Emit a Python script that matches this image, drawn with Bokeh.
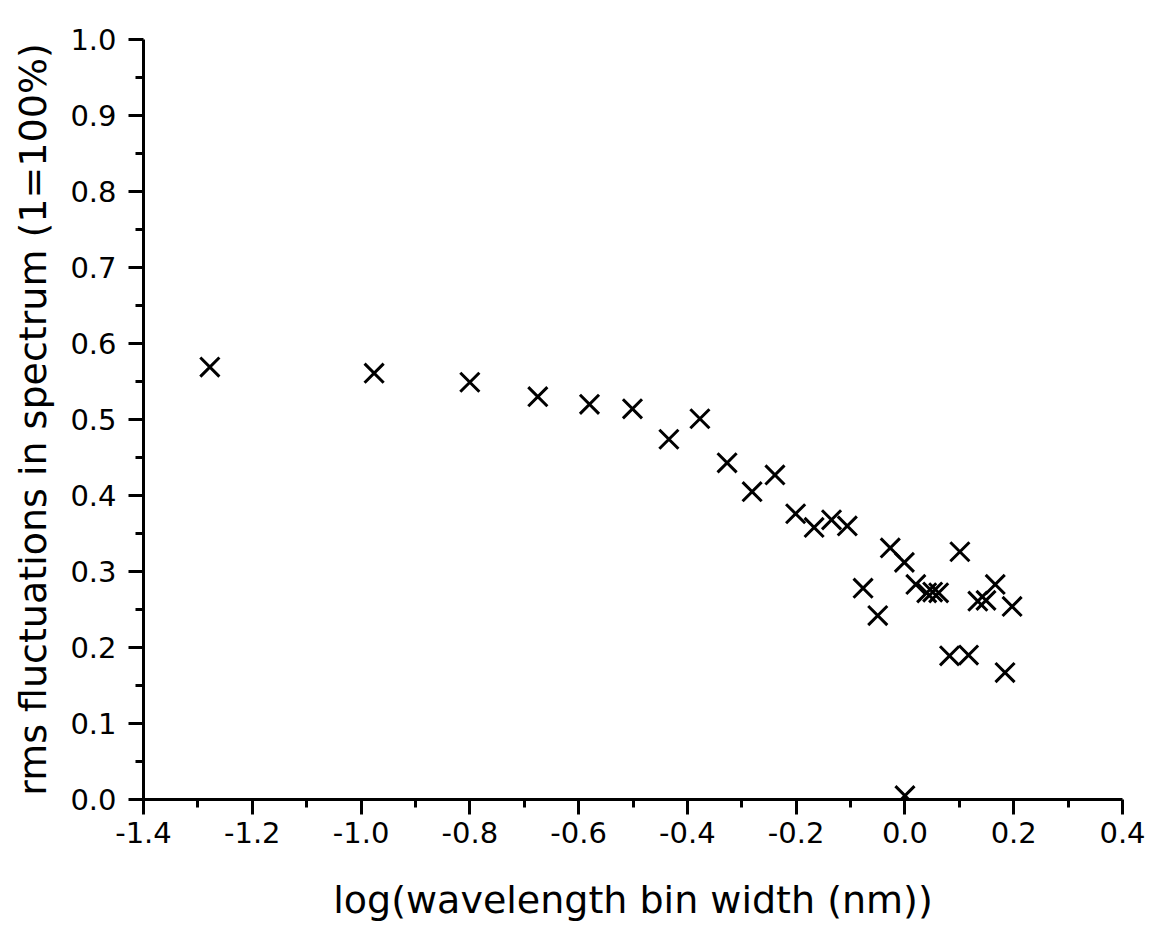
from bokeh.plotting import figure
from bokeh.models import FixedTicker, NumeralTickFormatter, LinearAxis, Range1d
from bokeh.embed import file_html
from bokeh.resources import INLINE

# data
log_bin_width = [-1.278, -0.976, -0.800, -0.675, -0.580, -0.501, -0.434, -0.377,
                 -0.327, -0.281, -0.239, -0.201, -0.167, -0.135, -0.106, -0.077,
                 -0.050, -0.027, -0.001, 0.020, 0.040, 0.051, 0.062, 0.101,
                 0.134, 0.149, 0.166, 0.197, 0.082, 0.117, 0.184, 0.000]
rms_fluct = [0.569, 0.561, 0.549, 0.530, 0.520, 0.514, 0.474, 0.501,
             0.443, 0.405, 0.427, 0.376, 0.358, 0.368, 0.360, 0.278,
             0.242, 0.331, 0.312, 0.283, 0.272, 0.273, 0.272, 0.326,
             0.261, 0.262, 0.283, 0.254, 0.189, 0.190, 0.167, 0.005]

x_ticks = [-1.4, -1.2, -1.0, -0.8, -0.6, -0.4, -0.2, 0.0, 0.2, 0.4]
x_minor = [-1.3, -1.1, -0.9, -0.7, -0.5, -0.3, -0.1, 0.1, 0.3]
y_ticks = [0.0, 0.1, 0.2, 0.3, 0.4, 0.5, 0.6, 0.7, 0.8, 0.9, 1.0]
y_minor = [0.05, 0.15, 0.25, 0.35, 0.45, 0.55, 0.65, 0.75, 0.85, 0.95]

FONT = "DejaVu Sans"

p = figure(width=1146, height=927, output_backend="svg", toolbar_location=None,
           x_range=Range1d(-1.4, 0.4), y_range=Range1d(0.0, 1.0),
           x_axis_location=None, y_axis_location=None,
           min_border_left=143, min_border_right=24,
           min_border_top=39, min_border_bottom=128)
p.outline_line_color = None
p.xgrid.visible = False
p.ygrid.visible = False
p.background_fill_color = "white"
p.border_fill_color = "white"

xaxis = LinearAxis(axis_label="log(wavelength bin width (nm))",
                   ticker=FixedTicker(ticks=x_ticks, minor_ticks=x_minor),
                   formatter=NumeralTickFormatter(format="0.0"))
yaxis = LinearAxis(axis_label="rms fluctuations in spectrum (1=100%)",
                   ticker=FixedTicker(ticks=y_ticks, minor_ticks=y_minor),
                   formatter=NumeralTickFormatter(format="0.0"))

for ax in (xaxis, yaxis):
    ax.axis_line_width = 3
    ax.axis_line_color = "black"
    ax.major_tick_line_width = 3
    ax.minor_tick_line_width = 3
    ax.major_tick_line_color = "black"
    ax.minor_tick_line_color = "black"
    ax.major_tick_out = 15
    ax.major_tick_in = 0
    ax.minor_tick_out = 8
    ax.minor_tick_in = 0
    ax.major_label_text_font = FONT
    ax.major_label_text_font_size = "29px"
    ax.major_label_text_color = "black"
    ax.axis_label_text_font = FONT
    ax.axis_label_text_font_size = "38px"
    ax.axis_label_text_font_style = "normal"
    ax.axis_label_text_color = "black"

xaxis.major_label_standoff = 7
xaxis.axis_label_standoff = 32
yaxis.major_label_standoff = 12
yaxis.axis_label_standoff = 12

p.add_layout(xaxis, "below")
p.add_layout(yaxis, "left")

p.scatter(log_bin_width, rms_fluct, marker="x", size=27,
          line_color="black", line_width=3)

open("out.html", "w").write(file_html(p, INLINE))
